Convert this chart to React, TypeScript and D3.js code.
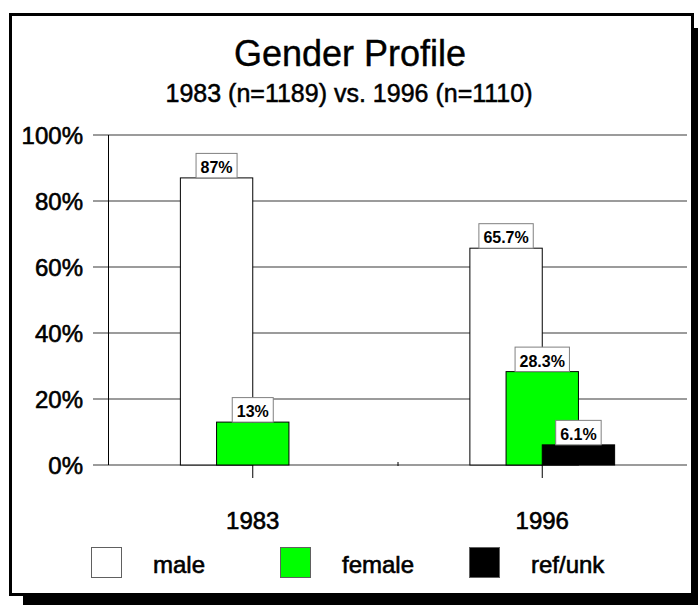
import React from "react";
import * as d3 from "d3";

const categories = ["1983", "1996"];
const seriesNames = ["male", "female", "ref/unk"];
const seriesColors = ["#ffffff", "#00ff00", "#000000"];
const maleValues = [87, 65.7];
const femaleValues = [13, 28.3];
const refUnkValues = [0, 6.1];
const yTicks = [0, 20, 40, 60, 80, 100];
const titleText = "Gender Profile";
const subtitleText = "1983 (n=1189) vs. 1996 (n=1110)";

const seriesValues = [maleValues, femaleValues, refUnkValues];

const FONT = "'Liberation Sans', Arial, Helvetica, sans-serif";

const boldW: Record<string, number> = { "0": 0.556, "1": 0.556, "2": 0.556, "3": 0.556, "4": 0.556, "5": 0.556, "6": 0.556, "7": 0.556, "8": 0.556, "9": 0.556, ".": 0.278, "%": 0.889 };
const textWidth = (s: string, size: number) => s.split("").reduce((a, c) => a + (boldW[c] ?? 0.556), 0) * size;

export default function App() {
  const W = 698, H = 605;
  const x = d3.scaleBand<string>().domain(categories).range([108, 687]).padding(0);
  const y = d3.scaleLinear().domain([0, 100]).range([465, 135]);
  const bw = x.bandwidth() / 4;
  const barX = (cat: string, si: number) => (x(cat) as number) + x.bandwidth() / 2 - bw + si * bw / 2;

  const bars: { key: string; x: number; y: number; h: number; fill: string; v: number }[] = [];
  seriesValues.forEach((vals, si) => {
    vals.forEach((v, ci) => {
      if (v <= 0) return;
      const cat = categories[ci];
      bars.push({ key: `${si}-${ci}`, x: barX(cat, si), y: y(v), h: y(0) - y(v), fill: seriesColors[si], v });
    });
  });

  const heavy = { stroke: "#000", strokeWidth: 0.6, paintOrder: "stroke" as const };

  return (
    <svg width={W} height={H} style={{ position: "absolute", left: 0, top: 0 }} fontFamily={FONT}>
      <rect x={23} y={28} width={700} height={600} fill="#000" />
      <rect x={10.5} y={14.5} width={682} height={580} fill="#fff" stroke="#000" strokeWidth={3} />
      <text x={350} y={66} textAnchor="middle" fontSize={36} {...heavy} strokeWidth={0.4}>{titleText}</text>
      <text x={349} y={102} textAnchor="middle" fontSize={25} {...heavy} strokeWidth={0.5}>{subtitleText}</text>

      {yTicks.map((t) => (
        <g key={t}>
          <line x1={93} x2={687} y1={y(t)} y2={y(t)} stroke="#7a7a7a" strokeWidth={1.7} />
          <text x={83} y={y(t) + 9} textAnchor="end" fontSize={24} {...heavy}>{t + "%"}</text>
        </g>
      ))}
      <line x1={108.5} x2={108.5} y1={y(100)} y2={y(0)} stroke="#000" strokeWidth={1} />

      {bars.map((b) => (
        <rect key={b.key} x={b.x} y={b.y} width={bw} height={b.h} fill={b.fill} stroke="#000" strokeWidth={1} />
      ))}

      {categories.map((c) => {
        const cx = (x(c) as number) + x.bandwidth() / 2;
        return (
          <g key={c}>
            <line x1={cx} x2={cx} y1={y(0)} y2={y(0) + 13} stroke="#000" strokeWidth={1} />
            <text x={cx} y={529} textAnchor="middle" fontSize={24} {...heavy}>{c}</text>
          </g>
        );
      })}
      <line x1={(x(categories[1]) as number) + 0.5} x2={(x(categories[1]) as number) + 0.5} y1={y(0) - 3} y2={y(0) + 1} stroke="#000" strokeWidth={1} />

      {bars.map((b) => {
        const label = b.v + "%";
        const tw = textWidth(label, 16) + 9;
        const cx = b.x + bw / 2;
        return (
          <g key={"l" + b.key}>
            <rect x={cx - tw / 2} y={b.y - 24.5} width={tw} height={24.5} fill="#fff" stroke="#808080" strokeWidth={1} />
            <text x={cx} y={b.y - 5} textAnchor="middle" fontSize={16} fontWeight="bold">{label}</text>
          </g>
        );
      })}

      {seriesNames.map((n, i) => {
        const lx = 91 + i * 189;
        return (
          <g key={n}>
            <rect x={lx + 0.5} y={547.5} width={30} height={30} fill={seriesColors[i]} stroke="#606060" strokeWidth={1} />
            <text x={lx + 62} y={573} fontSize={24} {...heavy}>{n}</text>
          </g>
        );
      })}
    </svg>
  );
}
